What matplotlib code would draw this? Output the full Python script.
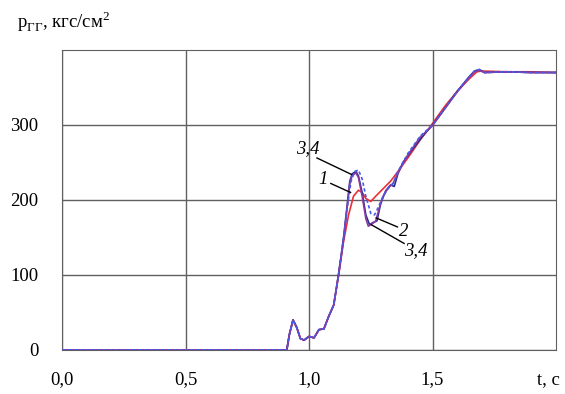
import matplotlib
matplotlib.use("Agg")
import matplotlib.pyplot as plt

plt.rcParams["font.family"] = ["Liberation Serif", "DejaVu Serif"]
plt.rcParams["mathtext.fontset"] = "custom"
plt.rcParams["mathtext.rm"] = "Liberation Serif"

# curve 1 (red)
t1 = [0.0, 0.91, 0.92, 0.935, 0.95, 0.965, 0.98, 1.0, 1.02, 1.04, 1.06, 1.08, 1.1, 1.12,
      1.14, 1.16, 1.18, 1.2, 1.215, 1.23, 1.25, 1.27, 1.3, 1.33, 1.36, 1.4, 1.45, 1.5,
      1.55, 1.6, 1.65, 1.68, 1.7, 1.8, 1.9, 2.0]
p1 = [0, 0, 20, 40, 30, 15, 13, 18, 16, 27, 28, 45, 60, 100,
      145, 180, 205, 213, 210, 202, 198, 205, 215, 225, 238, 256, 280, 302,
      325, 345, 362, 371, 372, 371, 371, 370]

# curve 2 (dashed blue)
t2 = [0.0, 0.91, 0.92, 0.935, 0.95, 0.965, 0.98, 1.0, 1.02, 1.04, 1.06, 1.08, 1.1, 1.12,
      1.14, 1.155, 1.17, 1.185, 1.2, 1.215, 1.23, 1.25, 1.265, 1.28, 1.3, 1.32, 1.34,
      1.36, 1.4, 1.45, 1.5, 1.55, 1.6, 1.65, 1.67, 1.69, 1.71, 1.8, 1.9, 2.0]
p2 = [0, 0, 20, 40, 30, 15, 13, 18, 16, 27, 28, 45, 60, 102,
      150, 190, 225, 238, 240, 228, 205, 182, 180, 190, 205, 215, 222,
      238, 262, 285, 300, 322, 345, 365, 372, 374, 370, 371, 370, 370]

# curve 3 (dark blue)
t3 = [0.0, 0.91, 0.92, 0.935, 0.95, 0.965, 0.98, 1.0, 1.02, 1.04, 1.06, 1.08, 1.1, 1.12,
      1.14, 1.155, 1.165, 1.175, 1.19, 1.2, 1.215, 1.23, 1.245, 1.26, 1.275, 1.29, 1.31,
      1.33, 1.345, 1.36, 1.38, 1.42, 1.46, 1.5, 1.55, 1.6, 1.65, 1.67, 1.69, 1.71, 1.8,
      1.9, 2.0]
p3 = [0, 0, 20, 40, 30, 15, 13, 18, 16, 27, 28, 45, 60, 102,
      150, 195, 225, 235, 238, 232, 210, 180, 167, 170, 172, 195, 212,
      220, 218, 235, 250, 268, 285, 300, 322, 345, 365, 372, 374, 370, 371,
      370, 370]

# curve 4 (purple)
t4 = [0.0, 0.91, 0.92, 0.935, 0.95, 0.965, 0.98, 1.0, 1.02, 1.04, 1.06, 1.08, 1.1, 1.12,
      1.14, 1.155, 1.165, 1.175, 1.19, 1.2, 1.215, 1.23, 1.24, 1.255, 1.27, 1.285, 1.3,
      1.32, 1.34, 1.36, 1.4, 1.45, 1.5, 1.55, 1.6, 1.65, 1.67, 1.69, 1.71, 1.8, 1.9, 2.0]
p4 = [0, 0, 20, 40, 30, 15, 13, 18, 16, 27, 28, 45, 60, 101,
      148, 192, 222, 233, 236, 230, 205, 175, 165, 168, 172, 190, 205,
      216, 222, 236, 260, 284, 299, 322, 344, 364, 371, 373, 370, 371, 370, 370]

# curve labels: text, text position, leader line (start, end)
labels = ["3,4", "1", "2", "3,4"]
label_xy = [(0.995, 268), (1.055, 227), (1.385, 158), (1.433, 132)]
leader_from = [(1.032, 256), (1.088, 222), (1.358, 164), (1.385, 142)]
leader_to = [(1.172, 234), (1.168, 210), (1.272, 176), (1.252, 167)]

fig = plt.figure(figsize=(5.65, 3.94), dpi=100)
ax = fig.add_axes([0.110, 0.112, 0.874, 0.761])

ax.plot(t1, p1, color="#e8303a", lw=1.2, zorder=3)
ax.plot(t3, p3, color="#2b2b8c", lw=1.2, zorder=4)
ax.plot(t4, p4, color="#8a3aa0", lw=1.2, zorder=4)
ax.plot(t2, p2, color="#4a5ae8", lw=1.2, ls=(0, (2, 1.5)), zorder=5)

ax.set_xlim(0, 2.0)
ax.set_ylim(0, 400)
ax.set_xticks([0, 0.5, 1.0, 1.5])
ax.set_xticklabels(["0,0", "0,5", "1,0", "1,5"])
ax.set_yticks([0, 100, 200, 300])
ax.grid(True, color="#606060", lw=1.0)
ax.tick_params(length=0, labelsize=13.5)
ax.tick_params(axis="x", pad=15)
ax.tick_params(axis="y", pad=17)
for s in ax.spines.values():
    s.set_color("#606060")

for lab, (tx, ty), (x0, y0), (x1, y1) in zip(labels, label_xy, leader_from, leader_to):
    ax.text(tx, ty, lab, fontsize=13.5, style="italic", ha="center", va="center")
    ax.plot([x0, x1], [y0, y1], color="black", lw=1.0, zorder=6)

fig.text(0.970, 0.036, "t, c", fontsize=13.5, ha="center", va="center")
fig.text(0.03, 0.945, r"p$_{\mathregular{ГГ}}$, кгс/см$^{\mathregular{2}}$",
         fontsize=13.5, ha="left", va="center")

fig.savefig("out.png", dpi=100)
